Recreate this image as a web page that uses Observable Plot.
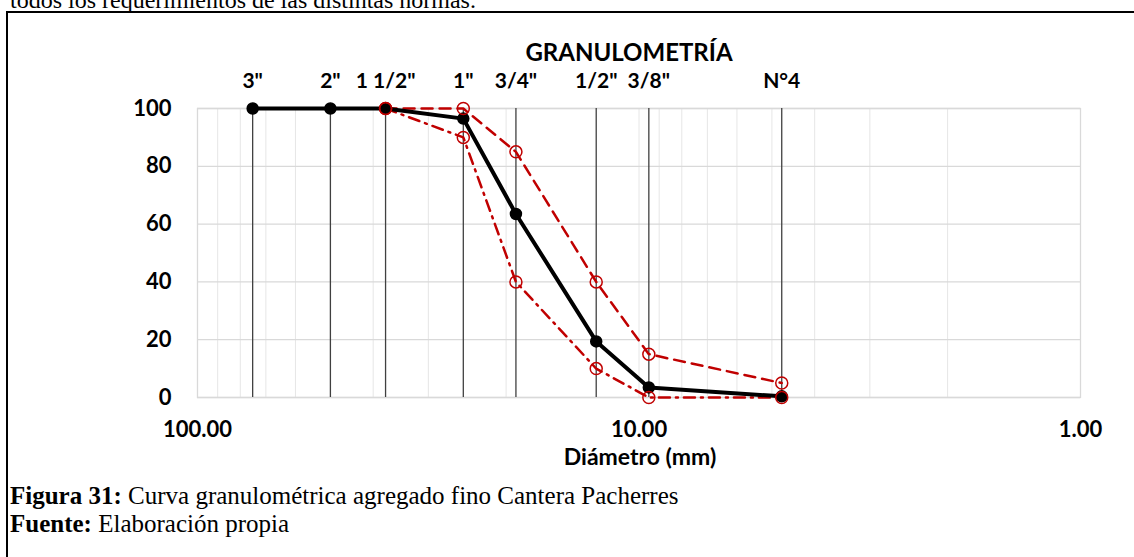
<!DOCTYPE html>
<html>
<head>
<meta charset="utf-8">
<script src="https://cdn.jsdelivr.net/npm/d3@7"></script>
<script src="https://cdn.jsdelivr.net/npm/@observablehq/plot@0.6"></script>
<style>
  html, body { margin: 0; padding: 0; background: #fff; width: 1134px; height: 557px; overflow: hidden; position: relative; }
  .serif { font-family: "Liberation Serif", "Times New Roman", serif; color: #000; position: absolute; white-space: nowrap; }
  #toptext { left: 10px; top: -12px; font-size: 24px; line-height: 24px; }
  #frame { position: absolute; left: 6px; top: 11px; width: 1140px; height: 560px; border-top: 2.5px solid #000; border-left: 2px solid #000; box-sizing: border-box; }
  #chart { position: absolute; left: 0; top: 0; }
  #cap1 { left: 10px; top: 482px; font-size: 25px; line-height: 28px; }
  #cap2 { left: 10px; top: 510px; font-size: 25px; line-height: 28px; }
</style>
</head>
<body>
<div id="toptext" class="serif">todos los requerimientos de las distintas normas.</div>
<div id="frame"></div>
<div id="chart"></div>
<div id="cap1" class="serif"><b>Figura 31:</b> Curva granulométrica agregado fino Cantera Pacherres</div>
<div id="cap2" class="serif"><b>Fuente:</b> Elaboración propia</div>
<script>
// Sieves
const sieveLabels = ['3"', '2"', '1 1/2"', '1"', '3/4"', '1/2"', '3/8"', 'N°4'];
const sieveSizes = [75, 50, 37.5, 25, 19, 12.5, 9.5, 4.75];
// % passing of the sample
const passing = [100, 100, 100, 96.5, 63.5, 19.4, 3.5, 0.4];
// Specification limits
const limitSizes = [37.5, 25, 19, 12.5, 9.5, 4.75];
const upperLimit = [100, 100, 85, 40, 15, 5];
const lowerLimit = [100, 90, 40, 10, 0, 0];
// Axis ticks and grid
const xTicks = [100, 10, 1];
const yTicks = [0, 20, 40, 60, 80, 100];
const xGrid = [90, 80, 70, 60, 50, 40, 30, 20, 10, 9, 8, 7, 6, 5, 4, 3, 2];
const chartTitle = "GRANULOMETRÍA";
const xLabel = "Diámetro (mm)";

const sample = sieveSizes.map((s, i) => ({size: s, pct: passing[i], label: sieveLabels[i]}));
const upper = limitSizes.map((s, i) => ({size: s, pct: upperLimit[i]}));
const lower = limitSizes.map((s, i) => ({size: s, pct: lowerLimit[i]}));

const red = "#c00000";
const font = "Lato, 'Open Sans', sans-serif";

const chart = Plot.plot({
  width: 1134,
  height: 480,
  marginLeft: 197,
  marginRight: 54,
  marginTop: 108,
  marginBottom: 83,
  style: {fontFamily: font, fontWeight: 700, fontSize: "22px", color: "#000", background: "transparent"},
  x: {type: "log", domain: [100, 1]},
  y: {domain: [0, 100]},
  marks: [
    Plot.ruleX(xGrid, {stroke: "#e6e6e6", strokeWidth: 1}),
    Plot.ruleY(yTicks, {stroke: "#d9d9d9", strokeWidth: 1.3}),
    Plot.frame({stroke: "#d9d9d9", strokeWidth: 1.3}),
    Plot.ruleX(sieveSizes, {y1: 0, y2: 100, stroke: "#404040", strokeWidth: 1.3}),
    Plot.axisY({ticks: yTicks, tickSize: 0, tickPadding: 26, fontSize: 22, fontWeight: 700, label: null}),
    Plot.axisX({ticks: xTicks, tickSize: 0, tickPadding: 24, tickFormat: d3.format(".2f"), fontSize: 22, fontWeight: 700, label: null}),
    Plot.text([xLabel], {frameAnchor: "bottom", dy: 60, dx: 1, fontSize: 23, fontWeight: 700, lineAnchor: "middle"}),
    Plot.text([chartTitle], {frameAnchor: "top", dy: -55, dx: -10, fontSize: 24, fontWeight: 700, lineAnchor: "middle"}),
    Plot.text(sample, {x: "size", y: 100, text: "label", dy: -27, fontSize: 21, fontWeight: 700, lineAnchor: "middle"}),
    Plot.line(upper, {x: "size", y: "pct", stroke: red, strokeWidth: 2.5, strokeDasharray: "11,7"}),
    Plot.line(lower, {x: "size", y: "pct", stroke: red, strokeWidth: 2.5, strokeDasharray: "11,6,2,6"}),
    Plot.line(sample, {x: "size", y: "pct", stroke: "#000", strokeWidth: 4}),
    Plot.dot(sample, {x: "size", y: "pct", r: 5.5, fill: "#000", stroke: "#000"}),
    Plot.dot(upper, {x: "size", y: "pct", r: 6, fill: "none", stroke: red, strokeWidth: 1.5}),
    Plot.dot(lower, {x: "size", y: "pct", r: 6, fill: "none", stroke: red, strokeWidth: 1.5})
  ]
});
document.getElementById("chart").appendChild(chart);
</script>
</body>
</html>
